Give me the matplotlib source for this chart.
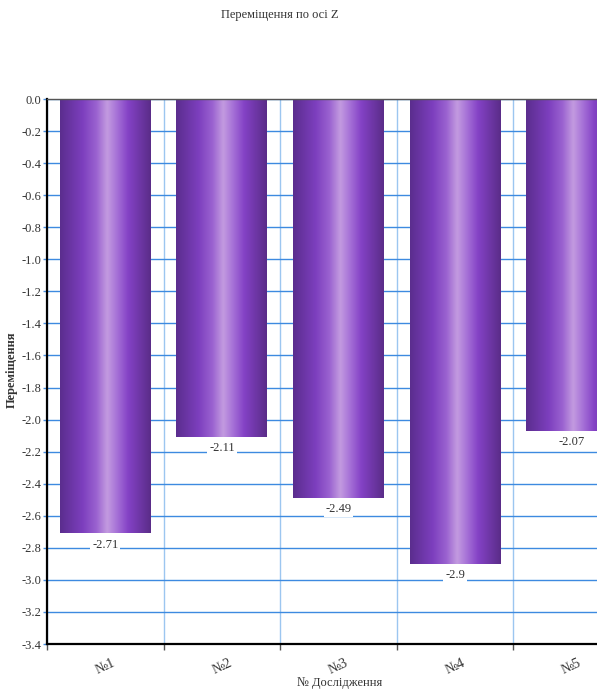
import matplotlib.pyplot as plt
import numpy as np
from matplotlib.colors import LinearSegmentedColormap
from matplotlib.ticker import FuncFormatter, MultipleLocator

plt.rcParams['font.family'] = ['Liberation Serif', 'DejaVu Serif']

experiments = ['№1', '№2', '№3', '№4', '№5']
displacement = [-2.71, -2.11, -2.49, -2.9, -2.07]
value_labels = ['-2.71', '-2.11', '-2.49', '-2.9', '-2.07']

# dark edges -> light centre, like the glossy bar style of the source
bar_cmap = LinearSegmentedColormap.from_list('gloss', [
    (0.00, '#5b2d8e'), (0.25, '#7d3fbe'), (0.40, '#9a62d0'),
    (0.52, '#c39be0'), (0.62, '#a874d8'), (0.75, '#8442c6'),
    (1.00, '#5a2c88')])

fig = plt.figure(figsize=(5.97, 6.9), dpi=100)
ax = fig.add_axes([47 / 597, 1 - 644 / 690, 583 / 597, 545 / 690])

x = np.arange(len(experiments))
bars = ax.bar(x, displacement, width=0.78, color='none', zorder=3)

grad = np.linspace(0, 1, 256).reshape(1, -1)
for b in bars:
    x0, w = b.get_x(), b.get_width()
    y0, h = b.get_y(), b.get_height()
    ax.imshow(grad, cmap=bar_cmap, aspect='auto', zorder=3,
              extent=[x0, x0 + w, y0 + h, y0], interpolation='bicubic')

for xi, v, lab in zip(x, displacement, value_labels):
    ax.annotate(lab, (xi, v), xytext=(0, -8), textcoords='offset points',
                ha='center', va='center', fontsize=9, color='#333333', zorder=4,
                bbox=dict(boxstyle='square,pad=0.15', fc='white', ec='none'))

ax.set_xlim(-0.5, len(experiments) - 0.5)
ax.set_ylim(-3.4, 0)
ax.set_aspect('auto')

ax.yaxis.set_major_locator(MultipleLocator(0.2))
ax.yaxis.set_major_formatter(FuncFormatter(lambda v, p: f'{v:.1f}' if abs(v) > 1e-9 else '0.0'))
ax.set_xticks(x)
ax.set_xticklabels(experiments, rotation=25, fontsize=10, color='#333333')
ax.set_xticks(np.arange(-0.5, len(experiments)), minor=True)
ax.tick_params(axis='x', which='major', length=0, pad=9)
ax.tick_params(axis='x', which='minor', length=4, width=1, color='#555555')
ax.tick_params(axis='y', length=3, width=1, labelsize=9, labelcolor='#333333',
               color='#4a90e2', pad=1)

ax.grid(axis='y', which='major', color='#3d8ae0', lw=1, zorder=1)
ax.grid(axis='x', which='minor', color='#9cc6f0', lw=1, zorder=1)
ax.set_axisbelow(True)

for side in ['left', 'bottom']:
    ax.spines[side].set_linewidth(1.6)
    ax.spines[side].set_color('black')
ax.spines['top'].set_color('#555555')
ax.spines['top'].set_linewidth(1)
ax.spines['right'].set_visible(False)
for s in ax.spines.values():
    s.set_zorder(5)

fig.text(280 / 597, 1 - 15 / 690, 'Переміщення по осі Z', ha='center', va='center',
         fontsize=9, color='#333333')
fig.text(12 / 597, 1 - 370 / 690, 'Переміщення', rotation=90, ha='center', va='center',
         fontsize=9, fontweight='bold', color='#333333')
fig.text(340 / 597, 1 - 683 / 690, '№ Дослідження', ha='center', va='center',
         fontsize=9, color='#333333')

fig.savefig('out.png', dpi=100)
